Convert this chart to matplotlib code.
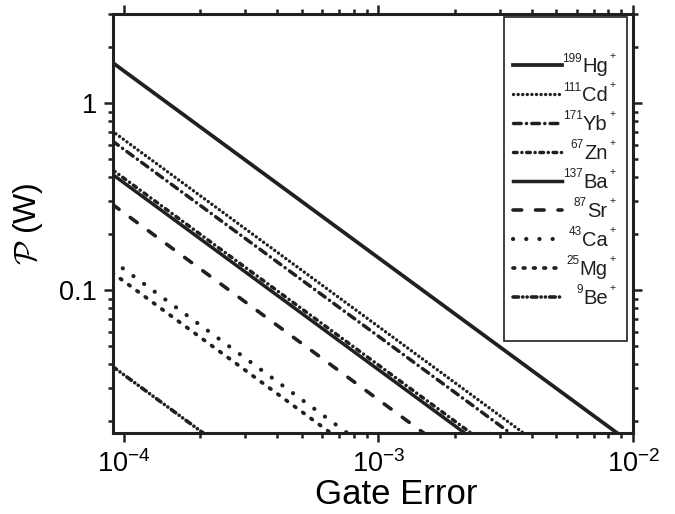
import matplotlib
matplotlib.use('Agg')
import matplotlib.pyplot as plt
from matplotlib import ticker
from matplotlib.patches import Rectangle

plt.rcParams['font.family'] = ['Liberation Sans', 'DejaVu Sans']
plt.rcParams['mathtext.fontset'] = 'custom'
plt.rcParams['mathtext.rm'] = 'Liberation Sans'
plt.rcParams['mathtext.it'] = 'Liberation Sans:italic'
plt.rcParams['mathtext.bf'] = 'Liberation Sans:bold'
plt.rcParams['lines.scale_dashes'] = False

# gate error range of the curves and required power (W) at both ends
gate_error = [9e-5, 1e-2]
p_hg = [1.653, 0.01488]
p_cd = [0.709, 0.00638]
p_yb = [0.629, 0.00566]
p_zn = [0.441, 0.00397]
p_ba = [0.417, 0.00375]
p_sr = [0.288, 0.00259]
p_ca = [0.144, 0.00130]
p_mg = [0.124, 0.00112]
p_be = [0.0392, 0.000353]

ions = ['Hg', 'Cd', 'Yb', 'Zn', 'Ba', 'Sr', 'Ca', 'Mg', 'Be']
masses = ['199', '111', '171', '67', '137', '87', '43', '25', '9']
powers = [p_hg, p_cd, p_yb, p_zn, p_ba, p_sr, p_ca, p_mg, p_be]

ink = '#231f20'
styles = [
    dict(ls='-', lw=2.7),
    dict(ls=(0, (0.1, 3.2)), lw=2.4),
    dict(ls=(0, (5.5, 3.8, 0.1, 3.8)), lw=2.5),
    dict(ls=(0, (2.6, 3.4, 0.1, 3.4)), lw=2.5),
    dict(ls='-', lw=2.5),
    dict(ls=(0, (6.2, 10.0)), lw=2.6),
    dict(ls=(0, (0.1, 9.4)), lw=3.0),
    dict(ls=(0, (1.2, 6.2)), lw=2.7),
    dict(ls=(0, (4.0, 3.0, 0.1, 3.0, 0.1, 3.0)), lw=2.6),
]

fig = plt.figure(figsize=(6.75, 5.14), dpi=100)
ax = fig.add_axes([0.167, 0.157, 0.771, 0.816])

for p, st in zip(powers, styles):
    ax.plot(gate_error, p, color=ink, linestyle=st['ls'], linewidth=st['lw'],
            dash_capstyle='round', solid_capstyle='butt')

ax.set_xscale('log')
ax.set_yscale('log')
ax.set_xlim(9.05e-5, 1e-2)
ax.set_ylim(0.01714, 3.0)

ax.xaxis.set_major_locator(ticker.LogLocator(base=10))
ax.xaxis.set_minor_locator(ticker.LogLocator(base=10, subs=range(2, 10)))
ax.xaxis.set_minor_formatter(ticker.NullFormatter())
ax.yaxis.set_major_locator(ticker.FixedLocator([0.1, 1]))
ax.yaxis.set_major_formatter(ticker.FixedFormatter(['0.1', '1']))
ax.yaxis.set_minor_locator(ticker.LogLocator(base=10, subs=range(2, 10)))
ax.yaxis.set_minor_formatter(ticker.NullFormatter())

for s in ax.spines.values():
    s.set_linewidth(2.2)
    s.set_color(ink)
ax.tick_params(which='both', direction='out', top=True, right=True, width=1.8, color=ink)
ax.tick_params(which='major', length=6.5)
ax.tick_params(which='minor', length=3.6)
ax.tick_params(axis='x', which='major', labelsize=19.5, pad=6)
ax.tick_params(axis='y', which='major', labelsize=19.5, pad=4.8)

ax.set_xlabel('Gate Error', fontsize=25)
ax.xaxis.set_label_coords(0.545, -0.147)
ax.xaxis.label.set_va('center')
ax.set_ylabel(r'$\mathcal{P}$ (W)', fontsize=23, math_fontfamily='cm')
ax.yaxis.set_label_coords(-0.13, 0.5)

# legend box, drawn by hand so the labels can be right aligned
ax.add_patch(Rectangle((0.752, 0.220), 0.2365, 0.773, transform=ax.transAxes,
                       facecolor='white', edgecolor=ink, linewidth=1.2, zorder=5))
row_top = 0.878
row_step = 0.0691
for i, (ion, m, st) in enumerate(zip(ions, masses, styles)):
    y = row_top - i * row_step
    ax.plot([0.769, 0.863], [y, y], transform=ax.transAxes, color=ink,
            linestyle=st['ls'], linewidth=st['lw'], dash_capstyle='round',
            zorder=6, clip_on=False)
    el = ax.text(0.951, y - 0.0165, ion, transform=ax.transAxes, ha='right',
                 va='baseline', fontsize=14.5, color=ink, zorder=6)
    ax.annotate(m, xy=(0, 1), xycoords=el, xytext=(-0.3, 3.2), textcoords='offset points',
                ha='right', va='top', fontsize=8.5, color=ink, zorder=6)
    ax.annotate('+', xy=(1, 1), xycoords=el, xytext=(1.2, 0.8), textcoords='offset points',
                ha='left', va='center', fontsize=7.5, color=ink, zorder=6)

fig.savefig('out.png', dpi=100)
